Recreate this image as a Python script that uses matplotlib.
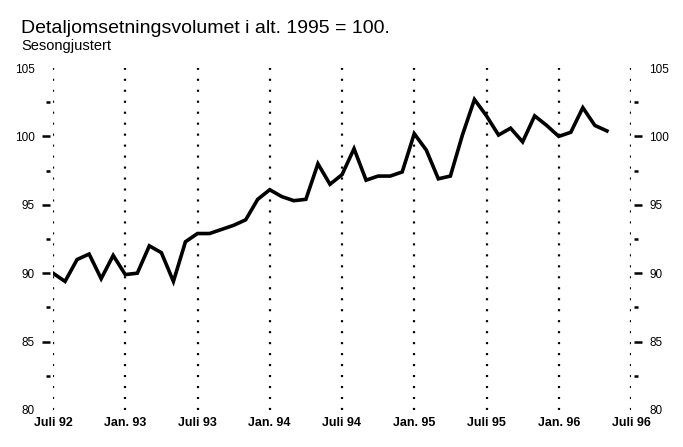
import matplotlib
matplotlib.use("Agg")
import matplotlib.pyplot as plt
import numpy as np

plt.rcParams['font.family'] = ['Liberation Sans Narrow', 'Liberation Sans', 'DejaVu Sans']
plt.rcParams['lines.scale_dashes'] = False

# Detaljomsetningsvolumet, sesongjustert, juli 1992 - mai 1996 (månedlig)
volum = [90.0, 89.4, 91.0, 91.4, 89.6, 91.3,
         89.9, 90.0, 92.0, 91.5, 89.4, 92.3,
         92.9, 92.9, 93.2, 93.5, 93.9, 95.4,
         96.1, 95.6, 95.3, 95.4, 98.0, 96.5,
         97.2, 99.1, 96.8, 97.1, 97.1, 97.4,
         100.2, 99.0, 96.9, 97.1, 100.1, 102.7,
         101.5, 100.1, 100.6, 99.6, 101.5, 100.8,
         100.0, 100.3, 102.1, 100.8, 100.4]
x_labels = ['Juli 92', 'Jan. 93', 'Juli 93', 'Jan. 94', 'Juli 94',
            'Jan. 95', 'Juli 95', 'Jan. 96', 'Juli 96']
y_ticks = [80, 85, 90, 95, 100, 105]
y_minor = [82.5, 87.5, 92.5, 97.5, 102.5]

months = np.arange(len(volum))
x_pos = np.arange(len(x_labels)) * 6

fig = plt.figure(figsize=(6.83, 4.47), dpi=100)
ax = fig.add_axes([53/683, 1 - 410/447, (631 - 53)/683, (410 - 68)/447])

for xp in x_pos:
    ax.axvline(xp, color='black', lw=1.6, linestyle=(0, (1.5, 6.4)), zorder=1)

ax.plot(months, volum, color='black', lw=2.6, solid_joinstyle='miter', zorder=3)

ax.set_xlim(0, 48)
ax.set_ylim(80, 105)

for s in ax.spines.values():
    s.set_visible(False)
ax.spines['left'].set_position(('outward', 2.2))
ax.spines['right'].set_position(('outward', 2.2))

ax.set_xticks(x_pos)
ax.set_xticklabels(x_labels, fontweight='bold', fontsize=9)
ax.tick_params(axis='x', length=0, pad=5)

ax.set_yticks(y_ticks)
ax.set_yticks(y_minor, minor=True)
ax.set_yticklabels([str(v) for v in y_ticks], fontsize=8.5)
ax.tick_params(axis='y', which='major', left=True, right=True, labelleft=True,
               labelright=True, length=6, width=1.8, pad=5, direction='out',
               color='black')
ax.tick_params(axis='y', which='minor', left=True, right=True,
               length=2.6, width=1.8, direction='out')

fig.text(21/683, 1 - 33/447, 'Detaljomsetningsvolumet i alt. 1995 = 100.',
         fontsize=14, va='baseline', ha='left')
fig.text(21/683, 1 - 50/447, 'Sesongjustert', fontsize=10.5, va='baseline', ha='left')

# ingen tikkstrek ved 80 og 105, bare tall
fig.canvas.draw()
for t in ax.yaxis.get_major_ticks():
    if t.get_loc() in (80, 105):
        t.tick1line.set_visible(False)
        t.tick2line.set_visible(False)

fig.savefig('out.png', dpi=100)
